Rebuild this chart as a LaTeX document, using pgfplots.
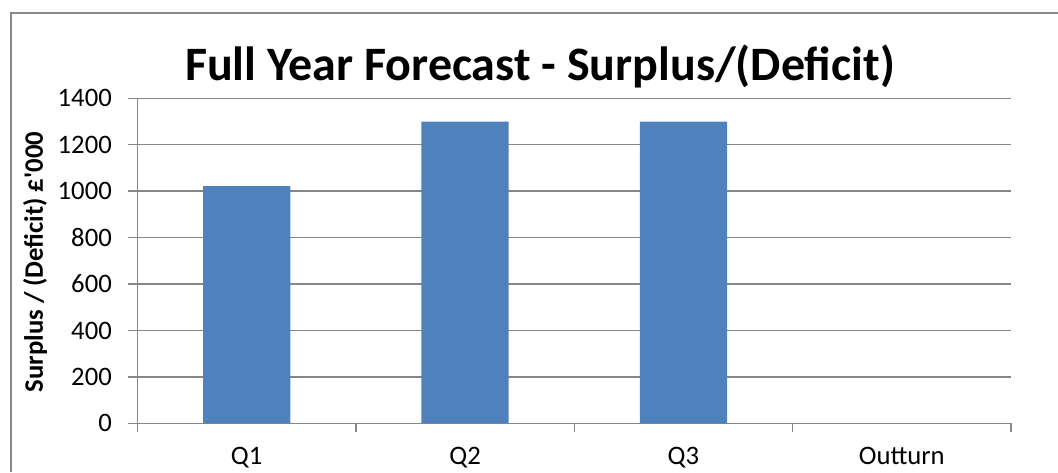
\documentclass[border=0pt]{standalone}
\usepackage{pgfplots}
\pgfplotsset{compat=1.18}
\usepackage{fontspec}
\setmainfont{Carlito}[Ligatures=TeXOff]
\definecolor{barblue}{HTML}{4F81BD}
\definecolor{axgray}{HTML}{868686}
\definecolor{bordergray}{HTML}{8A8A8A}
\pgfplotstableread{
x y
0 1022
1 1300
2 1300
}\datatable
\begin{document}
\begin{tikzpicture}[x=0.75pt,y=0.75pt]
\useasboundingbox (0,0) rectangle (1058,472);
\draw[bordergray, line width=1.5pt] (10.5,0) -- (10.5,458.5) -- (1058,458.5);
\begin{axis}[
  at={(103.125pt,36.525pt)}, anchor=south west,
  scale only axis, width=655.125pt, height=243.75pt,
  xmin=-0.5, xmax=3.5, ymin=0, ymax=1400,
  axis x line=bottom, axis y line=left,
  axis line style={-, axgray, line width=1pt},
  ytick={0,200,...,1400},
  xtick={0,1,2,3},
  xticklabels={Q1,Q2,Q3,Outturn},
  minor xtick={-0.5,0.5,1.5,2.5,3.5},
  tick align=outside,
  major tick length=6.75pt,
  minor tick length=6.75pt,
  every tick/.style={axgray, line width=1pt},
  major x tick style={draw=none},
  ymajorgrids,
  grid style={axgray, line width=1pt},
  /pgf/number format/assume math mode=true,
  /pgf/number format/1000 sep={},
  ticklabel style={font=\fontsize{20}{23}\selectfont},
  yticklabel style={anchor=east, xshift=-9pt},
  xticklabel style={anchor=north, yshift=-8pt},
  scaled y ticks=false,
  clip=false,
]
\addplot[ybar, bar width=65.5pt, fill=barblue, draw=none] table[x=x,y=y] {\datatable};
\end{axis}
\node[font=\fontsize{36}{40}\selectfont\bfseries, anchor=base] at (540,391) {Full Year Forecast - Surplus/(Deficit)};
\node[font=\fontsize{20}{24}\selectfont\bfseries, rotate=90] at (35,210) {Surplus / (Deficit) £'000};
\end{tikzpicture}
\end{document}
